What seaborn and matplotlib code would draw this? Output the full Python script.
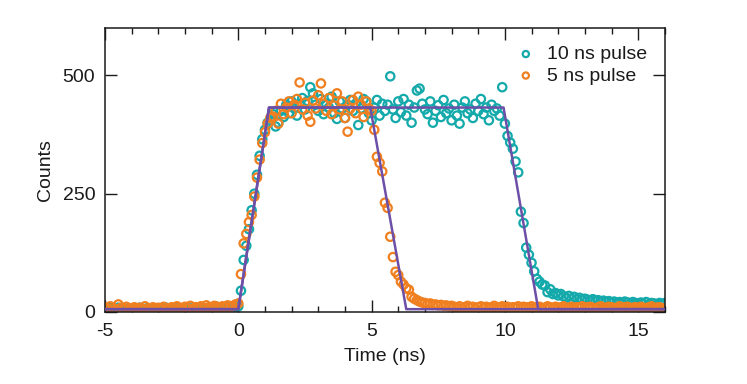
import numpy as np
import pandas as pd
import matplotlib
matplotlib.use("Agg")
import matplotlib.pyplot as plt
from matplotlib.ticker import MultipleLocator
import seaborn as sns

# ---------------- data ----------------
time_ns = np.round(np.linspace(-5.0, 16.0, 211), 1)

counts_10ns = [
    7, 5, 8, 6, 4, 9, 6, 7, 5, 8,
    6, 4, 7, 9, 5, 6, 8, 5, 7, 6,
    4, 8, 6, 9, 5, 7, 6, 8, 4, 7,
    6, 9, 5, 8, 6, 7, 10, 6, 8, 5,
    9, 7, 11, 8, 6, 10, 9, 12, 8, 11,
    # rise 0.0 - 1.1
    12, 45, 110, 140, 175, 215, 250, 290, 330, 365, 385, 400,
    # plateau 1.2 - 9.9
    405, 418, 392, 400, 425, 412, 438, 420, 445, 430,
    415, 440, 452, 428, 446, 475, 462, 438, 425, 450,
    418, 440, 432, 455, 420, 408, 445, 430, 410, 438,
    448, 425, 440, 395, 430, 450, 445, 420, 405, 432,
    448, 415, 440, 425, 438, 498, 428, 410, 445, 422,
    450, 415, 438, 400, 432, 468, 472, 440, 428, 418,
    445, 400, 425, 437, 412, 448, 420, 430, 405, 438,
    415, 398, 432, 445, 420, 428, 410, 440, 425, 450,
    418, 432, 405, 438, 425, 430, 415, 475,
    # fall 10.0 - 16.0
    398, 372, 358, 345, 318, 295, 212, 188, 136, 121,
    104, 86, 70, 64, 58, 56, 42, 48, 38, 40,
    35, 38, 33, 30, 34, 28, 32, 27, 30, 25,
    28, 26, 24, 27, 23, 25, 22, 24, 21, 23,
    20, 22, 19, 21, 18, 22, 20, 17, 21, 19,
    18, 20, 17, 21, 16, 19, 18, 15, 19, 17,
    19,
]

counts_5ns = [
    10, 6, 12, 8, 5, 16, 9, 7, 11, 6,
    8, 10, 5, 9, 7, 12, 6, 8, 10, 5,
    9, 7, 11, 6, 8, 10, 7, 12, 9, 6,
    11, 8, 13, 7, 10, 9, 12, 8, 14, 10,
    9, 13, 11, 8, 12, 10, 14, 11, 13, 16,
    # rise 0.0 - 1.1
    18, 80, 145, 165, 190, 205, 244, 284, 322, 357, 380, 398,
    # plateau 1.2 - 4.9
    410, 413, 425, 398, 440, 418, 432, 445, 420, 438,
    450, 485, 428, 442, 415, 402, 447, 430, 458, 483,
    440, 425, 452, 418, 436, 462, 428, 445, 410, 381,
    430, 448, 420, 455, 438, 412, 445, 430,
    # fall 5.0 - 8.0
    425, 385, 328, 315, 297, 231, 220, 159, 116, 85,
    78, 64, 58, 50, 47, 32, 28, 25, 22, 20,
    19, 17, 18, 15, 16, 14, 15, 13, 14, 12,
    13,
    # baseline 8.1 - 16.0
    11, 9, 12, 8, 10, 13, 9, 11, 7, 10,
    12, 8, 11, 9, 10, 13, 8, 10, 12, 9,
    11, 7, 10, 9, 12, 8, 11, 10, 9, 12,
    8, 10, 11, 7, 9, 12, 10, 8, 11, 9,
    10, 12, 8, 9, 11, 7, 10, 9, 12, 8,
    10, 11, 9, 7, 10, 12, 8, 9, 11, 10,
    8, 9, 12, 7, 10, 11, 8, 9, 10, 7,
    11, 9, 8, 10, 12, 7, 9, 10, 8, 6,
]

# trapezoid fits (knots)
fit10_t = [-5.0, 0.0, 1.15, 9.95, 11.25, 16.0]
fit10_y = [6, 6, 432, 432, 6, 6]
fit5_t = [-5.0, 0.0, 1.15, 4.95, 6.30, 16.0]
fit5_y = [6, 6, 432, 432, 6, 6]

series_labels = ["10 ns pulse", "5 ns pulse"]
x_ticks = [-5, 0, 5, 10, 15]
y_ticks = [0, 250, 500]

assert len(counts_10ns) == len(time_ns), len(counts_10ns)
assert len(counts_5ns) == len(time_ns), len(counts_5ns)

df = pd.DataFrame({
    "Time (ns)": np.concatenate([time_ns, time_ns]),
    "Counts": np.concatenate([counts_10ns, counts_5ns]),
    "series": [series_labels[0]] * len(time_ns) + [series_labels[1]] * len(time_ns),
})

# ---------------- style ----------------
sns.set_theme(style="ticks")
plt.rcParams["font.family"] = ["Liberation Sans", "DejaVu Sans"]
plt.rcParams["axes.unicode_minus"] = False
plt.rcParams["text.color"] = "#1a1a1a"
plt.rcParams["axes.labelcolor"] = "#1a1a1a"
plt.rcParams["xtick.color"] = "#1a1a1a"
plt.rcParams["ytick.color"] = "#1a1a1a"

teal = "#14a9aa"
orange = "#f07f20"
purple = "#6d4fa8"
fs = 14

fig = plt.figure(figsize=(7.47, 3.84), dpi=100)
ax = fig.add_axes([0.1406, 0.1875, 0.890 - 0.1406, 0.927 - 0.1875])

palette = {series_labels[0]: teal, series_labels[1]: orange}
for lab in series_labels:
    sub = df[df["series"] == lab]
    ax.scatter(sub["Time (ns)"], sub["Counts"], s=36, facecolors="none",
               edgecolors=palette[lab], linewidths=1.6, label=lab, zorder=2)

sns.lineplot(x=fit10_t, y=fit10_y, ax=ax, color=purple, lw=1.8, sort=False,
             zorder=3, legend=False)
sns.lineplot(x=fit5_t, y=fit5_y, ax=ax, color=purple, lw=1.8, sort=False,
             zorder=3, legend=False)

ax.set_xlim(-5, 16)
ax.set_ylim(0, 600)
ax.set_xticks(x_ticks)
ax.set_yticks(y_ticks)
ax.xaxis.set_minor_locator(MultipleLocator(1))
ax.tick_params(axis="both", which="major", direction="in", length=8.5, width=1.0,
               top=True, right=True, labelsize=fs)
ax.tick_params(axis="x", which="major", pad=8)
ax.tick_params(axis="y", which="major", pad=7)
ax.tick_params(axis="x", which="minor", direction="in", length=4.5, width=1.0,
               top=True, bottom=True)
for sp in ax.spines.values():
    sp.set_visible(True)
    sp.set_linewidth(1.1)
    sp.set_color("#1a1a1a")

ax.set_xlabel("Time (ns)", fontsize=fs, labelpad=6)
ax.set_ylabel("Counts", fontsize=fs, labelpad=6)

leg = ax.legend(loc="upper right", frameon=False, fontsize=fs, markerscale=0.75,
                handletextpad=0.6, borderaxespad=0.5, labelspacing=0.2,
                handlelength=1.0)

fig.savefig("out.png", dpi=100)
